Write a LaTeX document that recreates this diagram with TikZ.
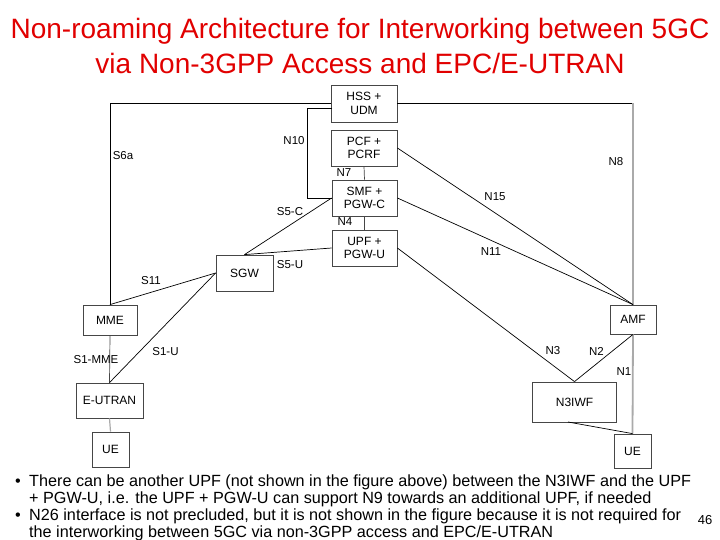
\documentclass[tikz,border=0pt]{standalone}
\usepackage{fontspec}
\setmainfont{Liberation Sans}
\usetikzlibrary{calc}
\definecolor{titlered}{RGB}{225,0,0}
\definecolor{boxline}{RGB}{70,70,70}
\definecolor{lightline}{RGB}{170,170,170}
\begin{document}
\begin{tikzpicture}[x=1pt,y=-1pt,
  nf/.style={draw=boxline, line width=0.8pt, fill=white, font=\fontsize{12}{13.5}\selectfont, align=center, inner sep=0pt},
  lnk/.style={draw=black, line width=0.7pt},
  glnk/.style={draw=lightline, line width=1.8pt},
  lbl/.style={font=\fontsize{11.5}{13}\selectfont, inner sep=0pt},
  ttl/.style={font=\fontsize{28}{32}\selectfont, text=titlered, inner sep=0pt, anchor=base},
  bt/.style={font=\fontsize{16.2}{18}\selectfont, inner sep=0pt, anchor=base west}]

\useasboundingbox[fill=white] (0,0) rectangle (720,540);

% title
\node[ttl] (t1) at (360,39) {Non-roaming Architecture for Interworking between 5GC};
\node[ttl] (t2) at (360,74) {via Non-3GPP Access and EPC/E-UTRAN};

% boxes
\node[nf, minimum width=66pt, minimum height=37pt] (hss) at (364,103.5) {HSS +\\UDM};
\node[nf, minimum width=66pt, minimum height=36pt] (pcf) at (364,148) {PCF +\\PCRF};
\node[nf, minimum width=65pt, minimum height=36pt] (smf) at (364.5,198) {SMF +\\PGW-C};
\node[nf, minimum width=65pt, minimum height=36pt] (upf) at (364.5,248) {UPF +\\PGW-U};
\node[nf, minimum width=57pt, minimum height=36pt] (sgw) at (244.5,273) {SGW};
\node[nf, minimum width=54pt, minimum height=30pt] (mme) at (110,320) {MME};
\node[nf, minimum width=67pt, minimum height=35pt] (eutran) at (109.5,400.5) {E-UTRAN};
\node[nf, minimum width=37pt, minimum height=35pt] (uel) at (110.5,449.5) {UE};
\node[nf, minimum width=46pt, minimum height=29pt] (amf) at (633,319.5) {AMF};
\node[nf, minimum width=84pt, minimum height=40pt] (n3iwf) at (574.5,402) {N3IWF};
\node[nf, minimum width=37pt, minimum height=34pt] (uer) at (632.5,451) {UE};

% connector corner points
\coordinate (s6a) at (110,103.5);
\coordinate (n10a) at (332,108.5);
\coordinate (n10b) at (307,108.5);
\coordinate (n10c) at (307,198);
\coordinate (n8a) at (633,103.5);
\coordinate (n3ue) at (568,422);

% connectors
\draw[lnk] (hss.west) -- (s6a) -- (mme.north);
\draw[lnk] (n10a) -- (n10b) -- (n10c) -- (smf.west);
\draw[lnk] (hss.east) -- (n8a);
\draw[glnk] (n8a) -- (amf.north);
\draw[glnk] (amf.south) -- (uer.north);
\draw[lnk, draw=boxline] (pcf.south) -- (smf.north);
\draw[lnk, draw=boxline] (smf.south) -- (upf.north);
\draw[lnk] (smf.west) -- (sgw.north);
\draw[lnk] (upf.west) -- (sgw.north);
\draw[lnk] (mme.north) -- (sgw.west);
\draw[lnk, draw=boxline] (mme.south) -- (eutran.north);
\draw[lnk] (eutran.north) -- (sgw.west);
\draw[glnk, line width=1.2pt] (eutran.south) -- (uel.north);
\draw[lnk] (pcf.east) -- (amf.north);
\draw[lnk] (smf.east) -- (amf.north);
\draw[lnk] (upf.east) -- (n3iwf.north);
\draw[lnk] (amf.south) -- (n3iwf.north);
\draw[lnk] (n3ue) -- (uer.north);

% labels
\node[lbl] (l1) at (123,156) {S6a};
\node[lbl] (l2) at (294,141) {N10};
\node[lbl] (l3) at (344,172.5) {N7};
\node[lbl] (l4) at (290,212) {S5-C};
\node[lbl] (l5) at (345,222) {N4};
\node[lbl] (l6) at (290,265) {S5-U};
\node[lbl] (l7) at (151,281) {S11};
\node[lbl] (l8) at (96,360) {S1-MME};
\node[lbl] (l9) at (165.5,352) {S1-U};
\node[lbl] (l10) at (495,197) {N15};
\node[lbl] (l11) at (491,252) {N11};
\node[lbl] (l12) at (616,162) {N8};
\node[lbl] (l13) at (553,351) {N3};
\node[lbl] (l14) at (596.5,351) {N2};
\node[lbl] (l15) at (624,372) {N1};

% bottom text
\node[bt, anchor=base] (b0) at (18,486) {•};
\node[bt] (b1) at (29,486) {There can be another UPF (not shown in the figure above) between the N3IWF and the UPF};
\node[bt] (b2) at (29,503) {+ PGW-U, i.e. the UPF + PGW-U can support N9 towards an additional UPF, if needed};
\node[bt, anchor=base] (b3) at (18,520) {•};
\node[bt] (b4) at (29,520) {N26 interface is not precluded, but it is not shown in the figure because it is not required for};
\node[bt] (b5) at (29,537) {the interworking between 5GC via non-3GPP access and EPC/E-UTRAN};
\node[font=\fontsize{13}{15}\selectfont, inner sep=0pt, anchor=base] (pg) at (705,524) {46};
\end{tikzpicture}
\end{document}
